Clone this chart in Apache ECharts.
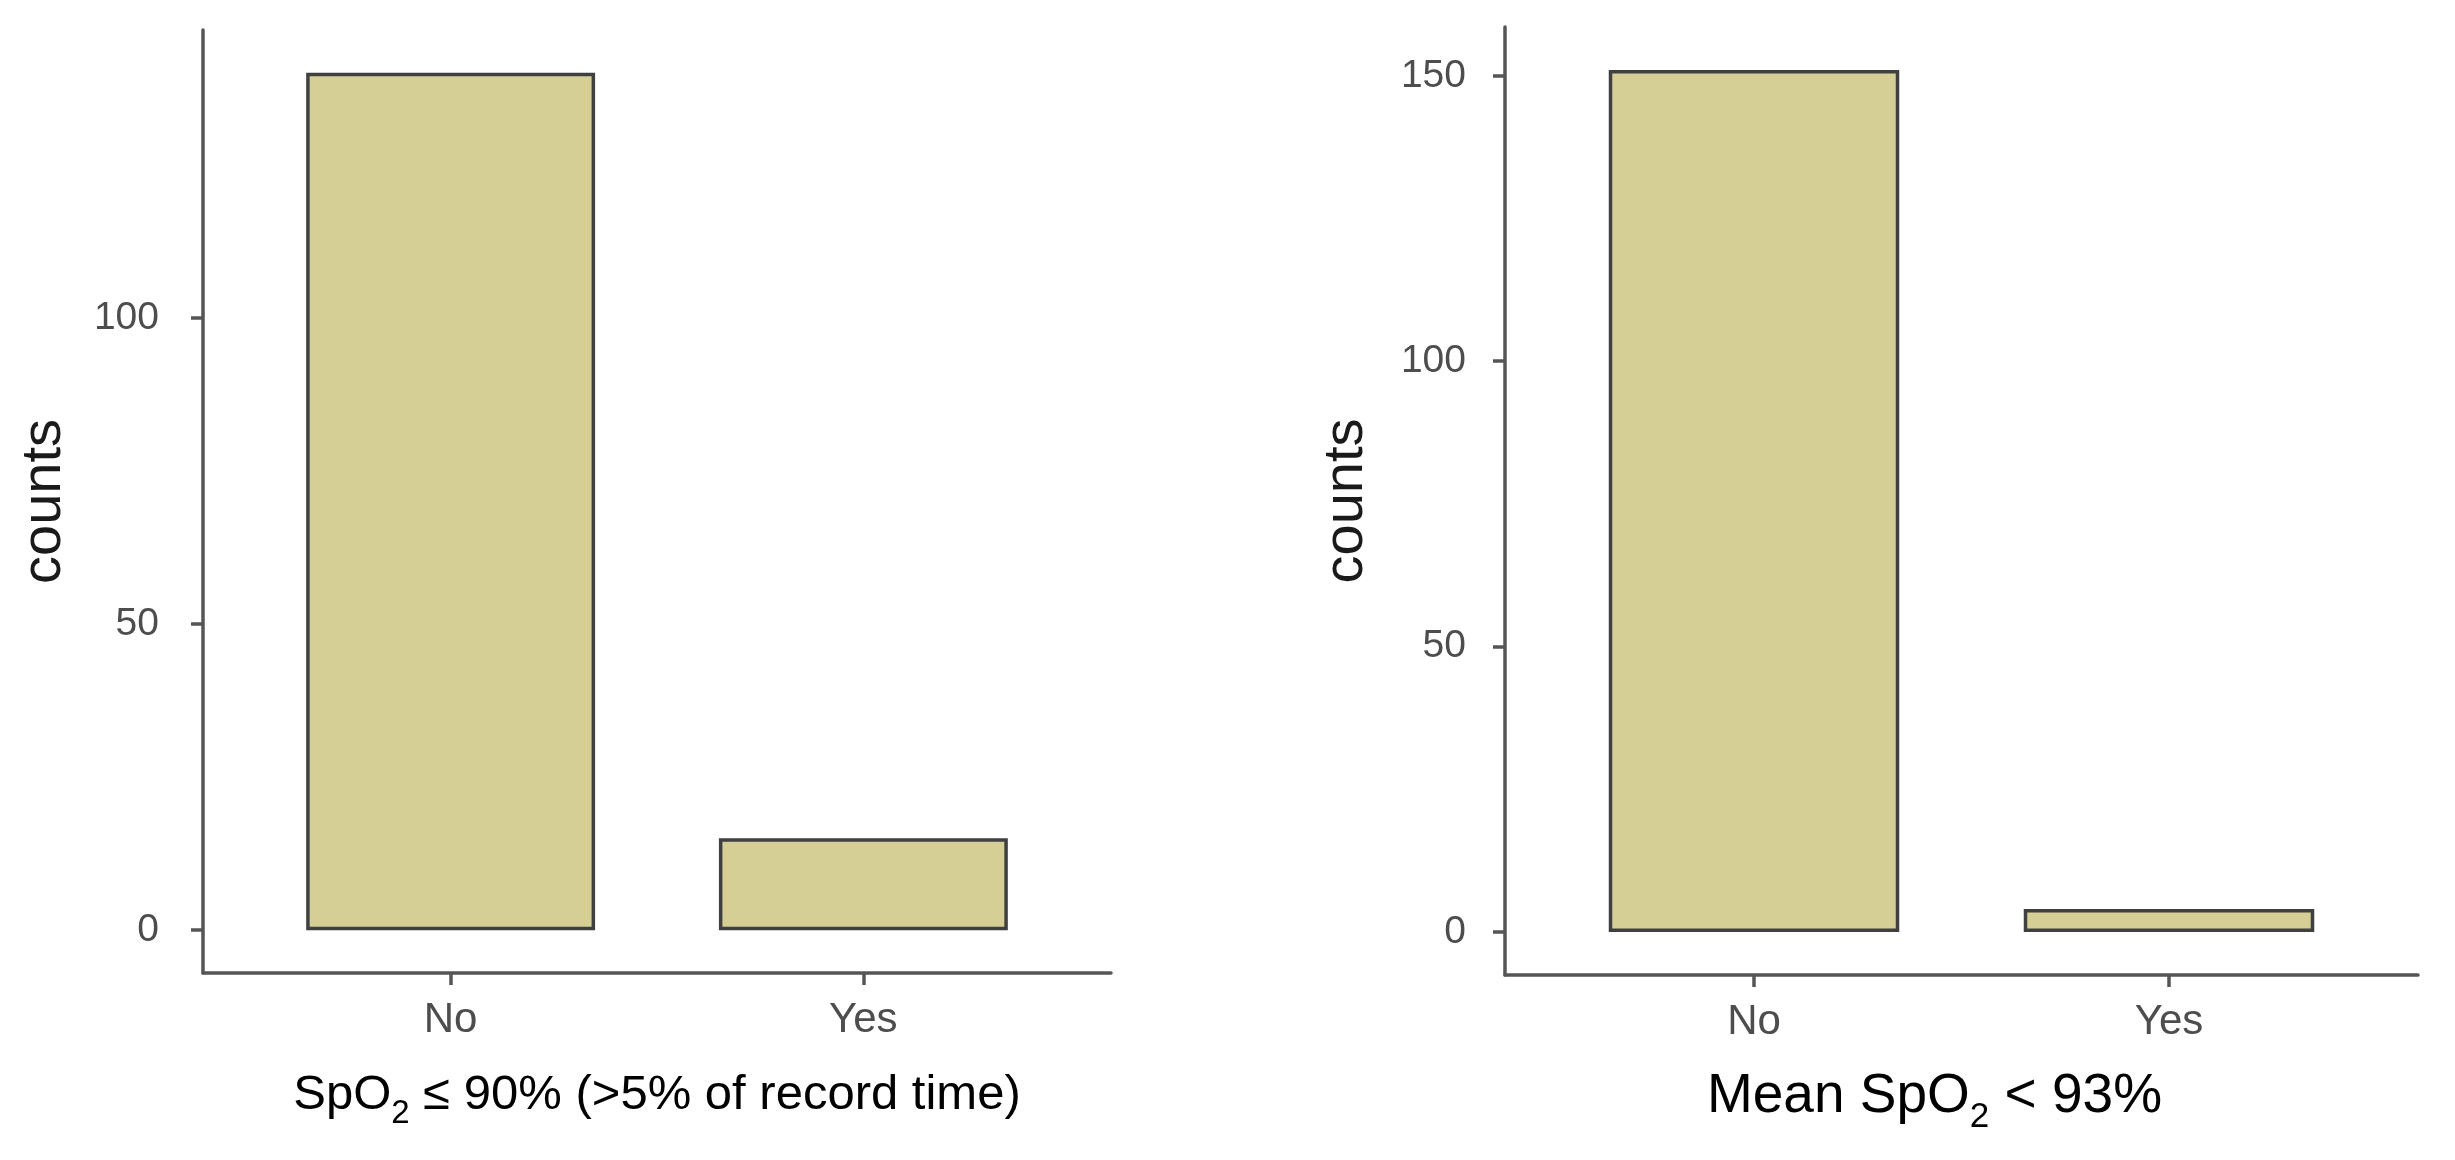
<!DOCTYPE html>
<html>
<head>
<meta charset="utf-8">
<script src="https://cdn.jsdelivr.net/npm/echarts@6/dist/echarts.min.js"></script>
<style>
  html, body { margin: 0; padding: 0; background: #ffffff; }
  #chart { width: 2455px; height: 1160px; }
</style>
</head>
<body>
<div id="chart"></div>
<script>
// ---- data ----
const categories = ['No', 'Yes'];
const leftCounts = [140, 15];
const rightCounts = [151, 4];
const leftTicks = [0, 50, 100];
const rightTicks = [0, 50, 100, 150];
const yAxisTitle = 'counts';
const leftTitleParts = ['SpO', '2', ' \u2264 90% (>5% of record time)'];
const rightTitleParts = ['Mean SpO', '2', ' < 93%'];

// ---- build ----
const FONT = '"Liberation Sans", Arial, Helvetica, sans-serif';
const AXIS_COLOR = '#555555';
const LABEL_COLOR = '#4d4d4d';
const FILL = '#d5cf96';
const BORDER = '#404040';

const catPositions = categories.map((c, i) => i + 1);
function toPairs(vals) { return vals.map((v, i) => [catPositions[i], v]); }
function expandRange(vals) {
  const mx = Math.max.apply(null, vals);
  return { min: -0.05 * mx, max: mx * 1.05 };
}

function titleRich(mainSize, mainLH, subSize, subLH) {
  return {
    m: { fontSize: mainSize, lineHeight: mainLH, verticalAlign: 'middle', color: '#000000', fontFamily: FONT },
    s: { fontSize: subSize, lineHeight: subLH, verticalAlign: 'bottom', color: '#000000', fontFamily: FONT }
  };
}

function xAxisCfg(gridIndex, parts, gap, rich, pad) {
  return {
    type: 'value',
    gridIndex: gridIndex,
    min: 0.4,
    max: categories.length + 0.6,
    splitLine: { show: false },
    axisLine: { onZero: false, lineStyle: { color: AXIS_COLOR, width: 3.5 } },
    axisTick: { show: true, length: 12, customValues: catPositions, lineStyle: { color: AXIS_COLOR, width: 3.5 } },
    axisLabel: {
      customValues: catPositions,
      formatter: function (v) { return categories[Math.round(v) - 1] || ''; },
      fontSize: 42, color: LABEL_COLOR, fontFamily: FONT, margin: 26
    },
    name: '{m|' + parts[0] + '}{s|' + parts[1] + '}{m|' + parts[2] + '}',
    nameLocation: 'middle',
    nameGap: gap,
    nameTextStyle: { rich: rich, padding: pad }
  };
}

function yAxisCfg(gridIndex, vals, ticks, labelMargin) {
  const r = expandRange(vals);
  return {
    type: 'value',
    gridIndex: gridIndex,
    min: r.min,
    max: r.max,
    splitLine: { show: false },
    axisLine: { show: true, onZero: false, lineStyle: { color: AXIS_COLOR, width: 3.5 } },
    axisTick: { show: true, length: 12, customValues: ticks, lineStyle: { color: AXIS_COLOR, width: 3.5 } },
    axisLabel: { customValues: ticks, fontSize: 39, color: LABEL_COLOR, fontFamily: FONT, margin: labelMargin },
    name: yAxisTitle,
    nameLocation: 'middle',
    nameGap: 130,
    nameTextStyle: { fontSize: 56, color: '#1a1a1a', fontFamily: FONT }
  };
}

function barSeries(idx, vals) {
  return {
    type: 'bar',
    xAxisIndex: idx,
    yAxisIndex: idx,
    data: toPairs(vals),
    barWidth: '70%',
    itemStyle: { color: FILL, borderColor: BORDER, borderWidth: 3.5 },
    silent: true
  };
}

const chart = echarts.init(document.getElementById('chart'), null, { renderer: 'canvas' });
chart.setOption({
  backgroundColor: '#ffffff',
  animation: false,
  grid: [
    { left: 203, right: 1344, top: 30, bottom: 187, containLabel: false },
    { left: 1505, right: 37, top: 27, bottom: 185, containLabel: false }
  ],
  xAxis: [
    xAxisCfg(0, leftTitleParts, 87, titleRich(49, 70, 33, 37), [0, 0, 0, 0]),
    xAxisCfg(1, rightTitleParts, 84, titleRich(55, 76, 35, 36), [0, 54, 0, 0])
  ],
  yAxis: [
    yAxisCfg(0, leftCounts, leftTicks, 44),
    yAxisCfg(1, rightCounts, rightTicks, 39)
  ],
  series: [
    barSeries(0, leftCounts),
    barSeries(1, rightCounts)
  ]
});
</script>
</body>
</html>
